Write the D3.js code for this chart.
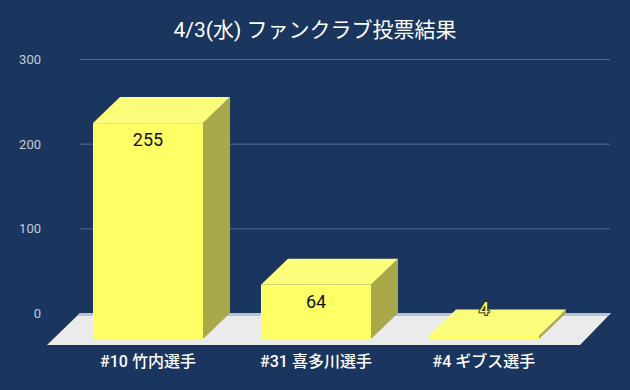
<!DOCTYPE html>
<html>
<meta charset="utf-8" />
<style>
	html, body { margin: 0; padding: 0; background: #1a365e; }
	svg { display: block; }
	text { font-family: Roboto, "Noto Sans CJK JP", sans-serif; }
	.grid line { stroke: #52698a; stroke-width: 1; }
	.grid .domain { display: none; }
</style>
<body>
<svg width="630" height="390"></svg>
<script src="https://d3js.org/d3.v7.min.js"></script>
<script>
	var title = "4/3(水) ファンクラブ投票結果";
	var players = ["#10 竹内選手", "#31 喜多川選手", "#4 ギブス選手"];
	var votes = [255, 64, 4];
	var yTicks = [0, 100, 200, 300];

	var svg = d3.select("svg"),
		width = +svg.attr("width"),
		height = +svg.attr("height");

	// 3d offsets: bars and floor go back up-right
	var dx = 27, dy = -26;
	var floorDepth = 32;

	var x = d3.scaleBand().domain(players).range([93, 539]).paddingInner(0.345);
	var yFront = d3.scaleLinear().domain([0, 300]).range([339, 85]);
	var yBack = yFront.copy().range([339 + dy, 85 + dy]);

	svg.append("rect").attr("width", width).attr("height", height).attr("fill", "#1a365e");

	svg.append("text")
		.attr("x", width / 2)
		.attr("y", 37)
		.attr("text-anchor", "middle")
		.attr("fill", "#ffffff")
		.attr("font-size", 21)
		.text(title);

	// gridlines + y labels on the back wall
	var grid = svg.append("g")
		.attr("class", "grid")
		.attr("transform", "translate(80,0)")
		.call(d3.axisLeft(yBack).tickValues(yTicks).tickSize(-530).tickPadding(39));
	grid.selectAll("text")
		.attr("dy", "0.35em")
		.attr("font-size", 13)
		.attr("fill", "#c3ccd9")
		.style("font-family", "Roboto, sans-serif");

	// floor
	var fy0 = yBack(0), fx0 = 80, fx1 = 611;
	svg.append("polygon")
		.attr("points", [[fx0, fy0], [fx1, fy0], [fx1 - floorDepth + 1, fy0 + floorDepth], [fx0 - floorDepth - 1, fy0 + floorDepth]].join(" "))
		.attr("fill", "#ebebeb");
	svg.append("polygon")
		.attr("points", [[fx0, fy0], [fx1, fy0], [fx1 - 3, fy0 + 3], [fx0 - 3, fy0 + 3]].join(" "))
		.attr("fill", "#b7c2d2");

	var bars = svg.append("g").selectAll("g").data(players).enter().append("g");

	bars.each(function (d, i) {
		var g = d3.select(this);
		var x0 = x(d), x1 = x(d) + x.bandwidth();
		var yt = yFront(votes[i]), yb = yFront(0);
		// side
		g.append("polygon")
			.attr("points", [[x1, yt], [x1 + dx, yt + dy], [x1 + dx, yb + dy], [x1, yb]].join(" "))
			.attr("fill", "#a9a94a");
		// front
		g.append("rect")
			.attr("x", x0).attr("y", yt)
			.attr("width", x.bandwidth()).attr("height", Math.max(yb - yt, 0.5))
			.attr("fill", "#ffff66");
		// top
		g.append("polygon")
			.attr("points", [[x0, yt], [x0 + dx, yt + dy], [x1 + dx, yt + dy], [x1, yt]].join(" "))
			.attr("fill", "#fdfd7c");
	});

	// value labels, short bars get theirs above the top face
	function inside(i) { return yFront(0) - yFront(votes[i]) > 30; }
	svg.append("g").selectAll("text").data(players).enter().append("text")
		.attr("x", function (d) { return x(d) + x.bandwidth() / 2; })
		.attr("y", function (d, i) {
			return inside(i) ? yFront(votes[i]) + 17 : yFront(votes[i]) - 27;
		})
		.attr("dy", "0.35em")
		.attr("text-anchor", "middle")
		.attr("font-size", 18)
		.attr("fill", function (d, i) { return inside(i) ? "#111" : "#ffff70"; })
		.attr("stroke", function (d, i) { return inside(i) ? "none" : "#2e2e22"; })
		.attr("stroke-width", 2)
		.attr("paint-order", "stroke")
		.text(function (d, i) { return votes[i]; });

	// category labels
	svg.append("g").selectAll("text").data(players).enter().append("text")
		.attr("x", function (d) { return x(d) + x.bandwidth() / 2; })
		.attr("y", 367)
		.attr("text-anchor", "middle")
		.attr("fill", "#ffffff")
		.attr("font-size", 16)
		.attr("font-weight", 500)
		.text(function (d) { return d; });
</script>
</body>
</html>
